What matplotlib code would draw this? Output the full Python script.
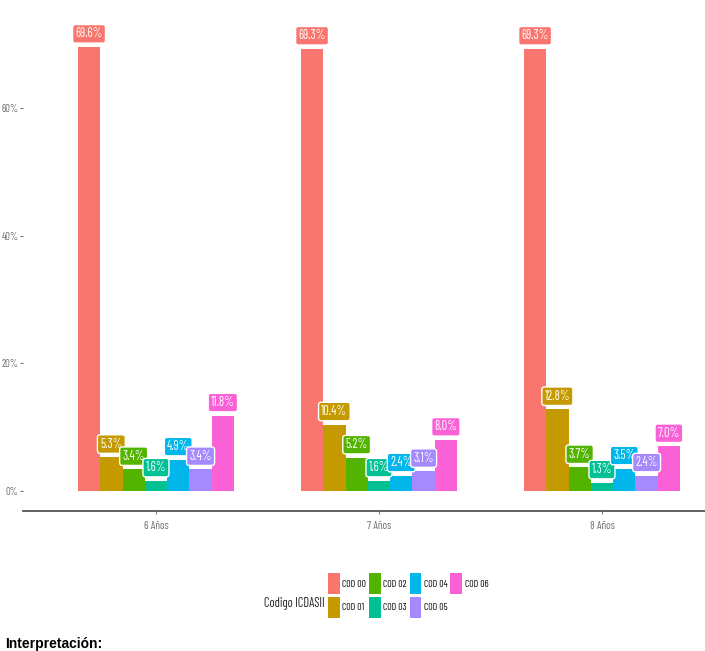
import matplotlib
matplotlib.use("Agg")
import matplotlib.pyplot as plt
from matplotlib.patches import Patch
import numpy as np

groups = ["6 Años", "7 Años", "8 Años"]
codes = ["COD 00", "COD 01", "COD 02", "COD 03", "COD 04", "COD 05", "COD 06"]
colors = ["#F8766D", "#C49A00", "#53B400", "#00C094", "#00B6EB", "#A58AFF", "#FB61D7"]
values = {
    "COD 00": [69.6, 69.3, 69.3],
    "COD 01": [5.3, 10.4, 12.8],
    "COD 02": [3.4, 5.2, 3.7],
    "COD 03": [1.6, 1.6, 1.3],
    "COD 04": [4.9, 2.4, 3.5],
    "COD 05": [3.4, 3.1, 2.4],
    "COD 06": [11.8, 8.0, 7.0],
}
yticks = [0, 20, 40, 60]
ytick_labels = ["0%", "20%", "40%", "60%"]

NARROW = ["Barlow Condensed", "DejaVu Sans"]

W, H = 705, 651
fig = plt.figure(figsize=(W / 100, H / 100), dpi=100)
ax = fig.add_axes([22.6 / W, 1 - 511 / H, 1 - 22.6 / W, (511 - 10) / H])

x = np.arange(1, len(groups) + 1)
bw = 0.1
n = len(codes)
for i, (code, col) in enumerate(zip(codes, colors)):
    xs = x + (i - (n - 1) / 2) * bw
    vals = values[code]
    ax.bar(xs, vals, width=bw, color=col, edgecolor="none", zorder=2)
    for xi, v in zip(xs, vals):
        ax.annotate(f"{v:.1f}%", (xi, v), xytext=(0, 4.8), textcoords="offset points",
                    ha="center", va="bottom", color="white", fontsize=9, family=NARROW,
                    bbox=dict(boxstyle="round,pad=0.22,rounding_size=0.2", fc=col, ec="white", lw=1.0),
                    zorder=3)

ax.set_xlim(0.402, 3.462)
ax.set_ylim(-3.13, 75.4)
ax.set_xticks(x)
ax.set_xticklabels(groups, fontsize=8, color="#707070", family=NARROW)
ax.set_yticks(yticks)
ax.set_yticklabels(ytick_labels, fontsize=7.6, color="#707070", family=NARROW)
ax.tick_params(axis="both", length=2.2, width=0.6, color="#555555", pad=0.5)
ax.tick_params(axis="x", pad=5)
for s in ["left", "top", "right"]:
    ax.spines[s].set_visible(False)
ax.spines["bottom"].set_color("#555555")
ax.spines["bottom"].set_linewidth(1.3)

handles = [Patch(facecolor=c, edgecolor="none", label=l) for c, l in zip(colors, codes)]
fig.legend(handles=handles, loc="upper left", bbox_to_anchor=(328 / W, 1 - 573 / H),
           bbox_transform=fig.transFigure, ncol=4, frameon=False, borderpad=0, borderaxespad=0,
           prop={"family": NARROW, "size": 7}, handlelength=1.2, handleheight=3.0,
           handletextpad=0.25, columnspacing=0.3, labelspacing=0.25)
fig.text(325 / W, 1 - 603 / H, "Codigo ICDASII", ha="right", va="center",
         family=NARROW, fontsize=9, color="#222222")

fig.text(5 / W, 1 - 637 / H, "Interpretación:", ha="left", va="top",
         family=["Liberation Sans", "DejaVu Sans"], fontweight="bold", fontsize=10, color="black")

fig.savefig("out.png", dpi=100)
